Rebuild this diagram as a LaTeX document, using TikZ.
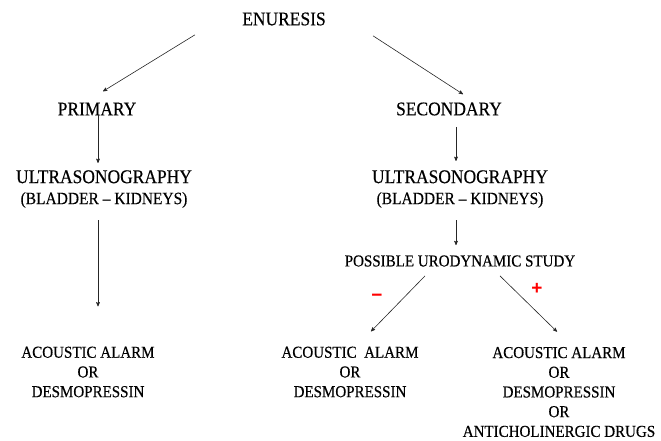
\documentclass[tikz,border=0pt]{standalone}
\usepackage{fontspec}
\setmainfont{Liberation Serif}[FakeStretch=0.9,FakeBold=0.4]
\newfontfamily\signfont{Liberation Sans}
\usetikzlibrary{arrows}

\begin{document}
\begin{tikzpicture}[x=1pt,y=1pt,->,>=stealth',line width=0.6pt,draw=black!85]
  \tikzstyle{every node}=[inner sep=2pt,text=black]
  \tikzstyle{big}=[font=\fontsize{19.4}{21}\selectfont,align=center]
  \tikzstyle{small}=[font=\fontsize{16.7}{19.7}\selectfont,align=center]
  \tikzstyle{sign}=[font=\signfont\bfseries\fontsize{19}{19}\selectfont,text=red]
  \useasboundingbox (0,0) rectangle (661,-441);

  \node[big] (E)  at (284,-19)  {ENURESIS};
  \node[big] (P)  at (97,-109)  {PRIMARY};
  \node[big] (S)  at (449,-109) {SECONDARY};
  \node[big] (UL) at (104,-189) {ULTRASONOGRAPHY\\{\fontsize{17.2}{18}\selectfont (BLADDER – KIDNEYS)}};
  \node[big] (UR) at (460,-189) {ULTRASONOGRAPHY\\{\fontsize{17.2}{18}\selectfont (BLADDER – KIDNEYS)}};
  \node[small] (U)  at (460,-261) {POSSIBLE URODYNAMIC STUDY};

  \node[small] (AL) at (88,-372)  {ACOUSTIC ALARM\\OR\\DESMOPRESSIN};
  \node[small] (AM) at (350,-372) {ACOUSTIC\ \ ALARM\\OR\\DESMOPRESSIN};
  \node[small] (AR) at (559,-392) {ACOUSTIC ALARM\\OR\\DESMOPRESSIN\\OR\\ANTICHOLINERGIC DRUGS};

  \node[sign] (minus) at (377,-298) {−};
  \node[sign] (plus)  at (537,-289) {+};

  \path ([xshift=-45pt,yshift=-7pt]E.south west) edge ([xshift=6pt,yshift=9pt]P.north)
        ([xshift=45pt,yshift=-8pt]E.south east)  edge ([xshift=14pt,yshift=6pt]S.north)

        ([xshift=1pt,yshift=3pt]P.south)  edge ([xshift=-6pt,yshift=5pt]UL.north)
        ([xshift=7pt,yshift=-9pt]S.south) edge ([xshift=-4pt,yshift=7pt]UR.north)

        ([xshift=-6pt,yshift=-10pt]UL.south) edge ([xshift=10pt,yshift=38pt]AL.north)
        ([xshift=-4pt,yshift=-10pt]UR.south) edge ([xshift=-4pt,yshift=8pt]U.north)

        ([xshift=-35pt,yshift=-7pt]U.south) edge ([xshift=21pt,yshift=13pt]AM.north)
        ([xshift=40pt,yshift=-7pt]U.south)  edge ([xshift=-2pt,yshift=13pt]AR.north);
\end{tikzpicture}
\end{document}
